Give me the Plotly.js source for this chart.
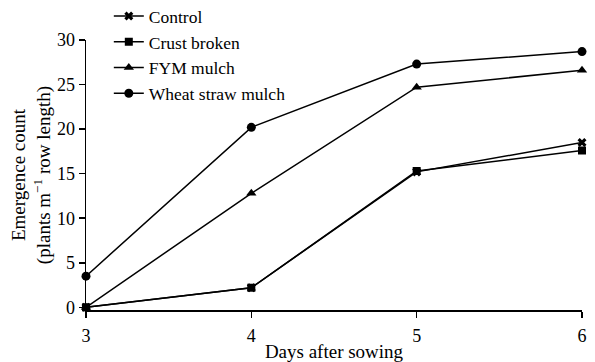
<!DOCTYPE html>
<html><head><meta charset="utf-8">
<script src="https://cdn.plot.ly/plotly-3.0.1.min.js"></script>
<style>body{margin:0;background:#fff}#c{width:595px;height:362px}</style>
</head><body><div id="c"></div>
<script>
const days = [3, 4, 5, 6];
const seriesNames = ["Control", "Crust broken", "FYM mulch", "Wheat straw mulch"];
const control = [0, 2.2, 15.2, 18.5];
const crustBroken = [0, 2.2, 15.3, 17.6];
const fymMulch = [0, 12.8, 24.7, 26.6];
const wheatStraw = [3.5, 20.2, 27.3, 28.7];
const yTicks = [0, 5, 10, 15, 20, 25, 30];
const xTicks = [3, 4, 5, 6];

const values = [control, crustBroken, fymMulch, wheatStraw];
const symbols = ["x", "square", "triangle-up", "circle"];
const sizes = [8, 8, 9, 9];
const traces = values.map((v, i) => ({
  x: days, y: v, name: seriesNames[i], type: "scatter", mode: "lines+markers",
  line: {color: "#000", width: 1.5},
  marker: {symbol: symbols[i], size: sizes[i], color: "#000"},
  cliponaxis: false
}));

const fam = "Liberation Serif, Times New Roman, serif";
const tickFont = {family: fam, color: "#000", size: 18};
const titleFont = {family: fam, color: "#000", size: 19};
const legFont = {family: fam, color: "#000", size: 17.5};
const layout = {
  width: 595, height: 362,
  margin: {l: 86, r: 13, t: 40, b: 52, autoexpand: false},
  paper_bgcolor: "#fff", plot_bgcolor: "#fff",
  font: tickFont,
  showlegend: true,
  legend: {x: 0.046, y: 1.155, xanchor: "left", yanchor: "top", font: legFont,
           bgcolor: "rgba(0,0,0,0)", tracegroupgap: 0, itemwidth: 30},
  xaxis: {
    range: [3, 6], tickvals: xTicks, ticks: "outside", ticklen: 6, tickwidth: 1.5,
    tickcolor: "#000", showline: true, linecolor: "#000", linewidth: 1.5,
    showgrid: false, zeroline: false, tickfont: tickFont, ticklabelstandoff: 3,
    title: {text: "Days after sowing", font: titleFont, standoff: 0}
  },
  yaxis: {
    range: [-0.3, 30], tickvals: yTicks, ticks: "outside", ticklen: 6, tickwidth: 1.5,
    tickcolor: "#000", showline: true, linecolor: "#000", linewidth: 1.5,
    showgrid: false, zeroline: false, tickfont: tickFont,
    title: {text: "Emergence count<br>(plants m<sup>−1</sup> row length)", font: titleFont, standoff: 1}
  }
};
Plotly.newPlot("c", traces, layout, {displayModeBar: false, staticPlot: true});
</script></body></html>
